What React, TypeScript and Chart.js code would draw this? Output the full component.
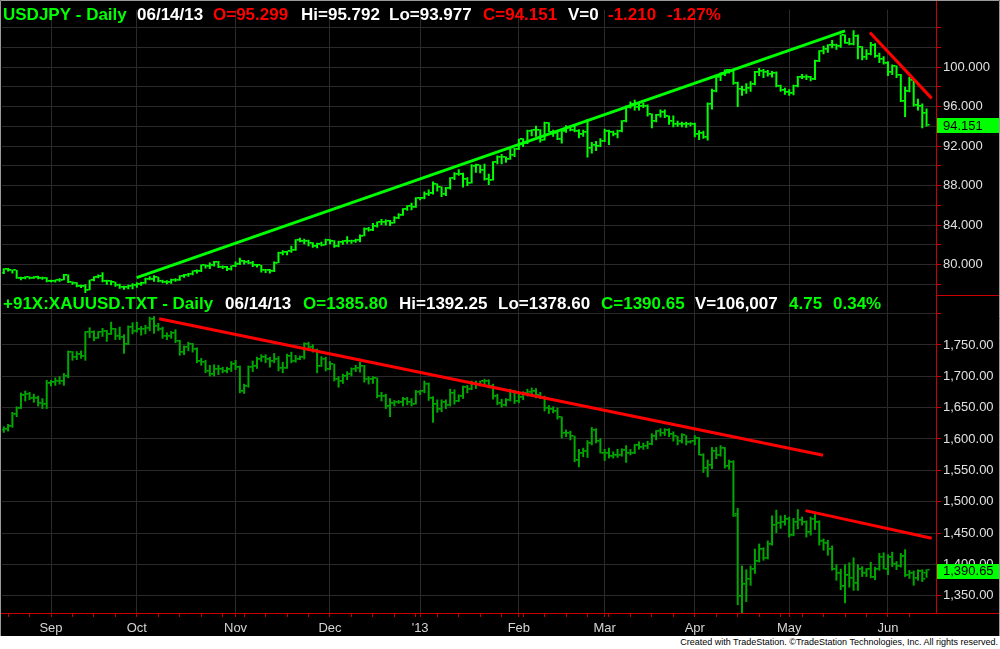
import React, { useEffect, useRef } from 'react';
import { Chart, registerables } from 'chart.js';

Chart.register(...registerables);

// ---------- time axis ----------
const monthLabels = ['Sep', 'Oct', 'Nov', 'Dec', "'13", 'Feb', 'Mar', 'Apr', 'May', 'Jun'];
const monthStartIdx = [11, 31, 54, 76, 97, 120, 140, 161, 183, 206];
const firstMondayIdx = 1;
const barsPerWeek = 5;
const barCount = 216;

// ---------- USDJPY daily OHLC ----------
const jpyOpen = [
  79.12, 79.55, 79.42, 79.40, 78.62, 78.60, 78.70, 78.65, 78.75, 78.62,
  78.65, 78.35, 78.30, 78.40, 78.45, 78.95, 78.20, 78.15, 77.80, 77.78,
  77.45, 78.38, 78.75, 78.80, 78.35, 78.30, 78.20, 77.90, 77.70, 77.70,
  77.80, 77.95, 78.05, 78.12, 78.55, 78.50, 78.70, 78.30, 78.25, 78.20,
  78.40, 78.45, 78.80, 78.90, 79.05, 79.30, 79.30, 79.95, 79.80, 79.95,
  80.25, 79.70, 79.75, 79.50, 79.80, 80.05, 80.40, 80.25, 80.20, 79.95,
  79.90, 79.45, 79.40, 79.35, 80.20, 81.15, 81.30, 81.35, 81.50, 82.50,
  82.40, 82.40, 82.15, 81.90, 82.05, 82.00, 82.50, 82.40, 81.85, 82.30,
  82.40, 82.35, 82.40, 82.45, 82.90, 83.60, 83.50, 83.90, 84.30, 84.35,
  84.40, 84.20, 84.70, 85.05, 85.60, 85.90, 85.85, 86.70, 86.75, 87.15,
  87.25, 88.15, 87.85, 87.10, 87.75, 88.80, 89.20, 89.20, 88.70, 88.30,
  90.00, 90.05, 89.60, 88.70, 88.60, 90.35, 90.90, 90.85, 90.70, 91.10,
  91.70, 92.70, 92.30, 93.55, 93.60, 93.60, 92.65, 94.35, 93.45, 93.35,
  92.70, 93.50, 93.90, 93.60, 93.50, 93.20, 93.40, 91.85, 92.15, 92.00,
  92.55, 93.55, 93.40, 93.20, 93.50, 94.55, 95.95, 96.25, 95.95, 96.10,
  96.10, 95.20, 94.50, 95.10, 95.40, 95.05, 94.50, 94.20, 94.25, 94.20,
  94.20, 94.25, 93.20, 93.35, 92.90, 96.30, 97.60, 98.95, 99.40, 99.70,
  99.60, 98.40, 97.75, 97.70, 97.90, 98.30, 99.50, 99.60, 99.50, 99.30,
  99.40, 98.05, 97.65, 97.45, 97.40, 98.05, 99.00, 99.00, 98.95, 98.80,
  100.60, 101.60, 101.80, 102.20, 102.20, 102.10, 103.20, 102.40, 102.30, 103.15,
  102.00, 101.00, 101.35, 102.25, 101.10, 100.80, 100.45, 99.50, 100.10, 99.20,
  96.60, 97.55, 98.70, 96.20, 96.10, 95.299,
];
const jpyHigh = [
  79.62, 79.65, 79.48, 79.45, 78.75, 78.80, 78.78, 78.82, 78.85, 78.75,
  78.72, 78.45, 78.48, 78.60, 79.05, 79.00, 78.28, 78.20, 77.95, 78.00,
  78.45, 78.80, 78.98, 79.22, 78.45, 78.40, 78.25, 78.05, 77.85, 77.95,
  78.10, 78.20, 78.25, 78.65, 78.80, 78.90, 78.75, 78.45, 78.40, 78.55,
  78.60, 78.90, 79.05, 79.15, 79.40, 79.50, 80.00, 80.00, 80.20, 80.35,
  80.35, 79.90, 79.85, 79.90, 80.30, 80.68, 80.45, 80.45, 80.35, 80.05,
  79.95, 79.55, 79.55, 80.30, 81.30, 81.45, 81.40, 81.90, 82.55, 82.70,
  82.60, 82.50, 82.25, 82.20, 82.30, 82.60, 82.55, 82.45, 82.40, 82.45,
  82.85, 82.50, 82.60, 83.05, 83.75, 83.80, 84.20, 84.35, 84.60, 84.55,
  84.50, 84.90, 85.20, 85.70, 86.00, 86.25, 86.80, 86.85, 87.40, 87.60,
  88.40, 88.20, 87.90, 87.85, 88.85, 89.35, 89.65, 89.30, 88.85, 90.15,
  90.20, 90.10, 90.20, 89.20, 90.45, 91.05, 91.20, 90.95, 91.70, 91.80,
  92.75, 92.80, 93.65, 93.70, 94.05, 93.70, 94.45, 94.40, 93.65, 93.55,
  93.55, 94.10, 94.05, 94.15, 93.70, 93.65, 94.75, 92.40, 92.50, 92.80,
  93.75, 93.65, 93.55, 93.65, 94.60, 96.10, 96.50, 96.70, 96.30, 96.35,
  96.20, 95.30, 95.25, 95.70, 95.70, 95.10, 95.10, 94.55, 94.45, 94.45,
  94.40, 94.35, 93.60, 93.55, 96.40, 97.80, 99.10, 99.45, 99.75, 99.80,
  99.70, 98.50, 98.10, 98.35, 98.55, 99.60, 99.90, 99.80, 99.70, 99.60,
  99.55, 98.20, 97.90, 97.75, 98.20, 99.10, 99.30, 99.25, 99.10, 100.75,
  101.70, 102.15, 102.30, 102.75, 102.35, 103.30, 103.30, 102.95, 103.74, 103.30,
  102.10, 101.80, 102.55, 102.40, 101.45, 101.10, 100.60, 100.25, 100.15, 99.30,
  98.00, 99.00, 98.80, 96.80, 96.30, 95.792,
];
const jpyLow = [
  79.05, 79.28, 79.10, 78.55, 78.40, 78.50, 78.50, 78.55, 78.50, 78.45,
  78.20, 78.20, 78.18, 78.25, 78.40, 78.12, 77.95, 77.70, 77.62, 77.12,
  77.40, 78.30, 78.60, 78.20, 77.95, 77.90, 77.75, 77.55, 77.45, 77.50,
  77.50, 77.65, 77.85, 78.05, 78.40, 78.25, 78.20, 78.10, 78.00, 78.05,
  78.25, 78.35, 78.65, 78.75, 78.90, 79.10, 79.25, 79.60, 79.55, 79.80,
  79.65, 79.55, 79.35, 79.40, 79.75, 79.95, 80.00, 80.05, 79.75, 79.70,
  79.20, 79.15, 79.10, 79.25, 80.15, 80.95, 80.95, 81.20, 81.40, 82.25,
  82.05, 81.85, 81.70, 81.65, 81.85, 81.95, 82.05, 81.70, 81.75, 82.00,
  82.10, 82.10, 82.20, 82.25, 82.85, 83.35, 83.40, 83.75, 84.00, 83.95,
  83.90, 84.15, 84.60, 84.95, 85.45, 85.50, 85.75, 86.50, 86.60, 86.95,
  87.10, 87.40, 86.85, 86.95, 87.60, 88.55, 89.00, 87.80, 87.95, 88.20,
  89.30, 89.25, 88.50, 88.05, 88.50, 90.15, 90.15, 90.30, 90.60, 90.90,
  91.60, 91.90, 92.20, 93.00, 92.95, 92.35, 92.55, 93.40, 92.95, 92.60,
  92.25, 93.35, 93.50, 93.40, 92.80, 92.95, 90.85, 91.25, 91.50, 91.90,
  92.40, 92.10, 93.00, 92.80, 93.40, 94.40, 95.80, 95.60, 95.60, 95.85,
  95.00, 93.80, 94.40, 94.90, 94.85, 94.15, 93.90, 93.95, 93.90, 93.85,
  94.00, 92.90, 92.60, 92.75, 92.55, 95.70, 97.45, 98.60, 99.10, 99.35,
  98.20, 95.95, 97.10, 97.30, 97.50, 98.15, 99.10, 98.90, 99.05, 98.95,
  97.95, 97.50, 97.20, 97.10, 97.15, 97.95, 98.80, 98.70, 98.55, 98.70,
  100.50, 101.30, 101.45, 101.90, 101.75, 101.95, 102.35, 102.20, 102.20, 100.80,
  100.70, 100.75, 101.20, 100.95, 100.40, 100.25, 99.10, 99.20, 98.90, 96.45,
  94.95, 97.45, 96.00, 95.60, 93.80, 93.977,
];
const jpyClose = [
  79.55, 79.42, 79.40, 78.62, 78.60, 78.70, 78.65, 78.75, 78.62, 78.65,
  78.35, 78.30, 78.40, 78.45, 78.95, 78.20, 78.15, 77.80, 77.78, 77.45,
  78.38, 78.75, 78.80, 78.35, 78.30, 78.20, 77.90, 77.70, 77.70, 77.80,
  77.95, 78.05, 78.12, 78.55, 78.50, 78.70, 78.30, 78.25, 78.20, 78.40,
  78.45, 78.80, 78.90, 79.05, 79.30, 79.30, 79.95, 79.80, 79.95, 80.25,
  79.70, 79.75, 79.50, 79.80, 80.05, 80.40, 80.25, 80.20, 79.95, 79.90,
  79.45, 79.40, 79.35, 80.20, 81.15, 81.30, 81.35, 81.50, 82.50, 82.40,
  82.40, 82.15, 81.90, 82.05, 82.00, 82.50, 82.40, 81.85, 82.30, 82.40,
  82.35, 82.40, 82.45, 82.90, 83.60, 83.50, 83.90, 84.30, 84.35, 84.40,
  84.20, 84.70, 85.05, 85.60, 85.90, 85.85, 86.70, 86.75, 87.15, 87.25,
  88.15, 87.85, 87.10, 87.75, 88.80, 89.20, 89.20, 88.70, 88.30, 90.00,
  90.05, 89.60, 88.70, 88.60, 90.35, 90.90, 90.85, 90.70, 91.10, 91.70,
  92.70, 92.30, 93.55, 93.60, 93.60, 92.65, 94.35, 93.45, 93.35, 92.70,
  93.50, 93.90, 93.60, 93.50, 93.20, 93.40, 91.85, 92.15, 92.00, 92.55,
  93.55, 93.40, 93.20, 93.50, 94.55, 95.95, 96.25, 95.95, 96.10, 96.10,
  95.20, 94.50, 95.10, 95.40, 95.05, 94.50, 94.20, 94.25, 94.20, 94.20,
  94.25, 93.20, 93.35, 92.90, 96.30, 97.60, 98.95, 99.40, 99.70, 99.60,
  98.40, 97.75, 97.70, 97.90, 98.30, 99.50, 99.60, 99.50, 99.30, 99.40,
  98.05, 97.65, 97.45, 97.40, 98.05, 99.00, 99.00, 98.95, 98.80, 100.60,
  101.60, 101.80, 102.20, 102.20, 102.10, 103.20, 102.40, 102.30, 103.15, 102.00,
  101.00, 101.35, 102.25, 101.10, 100.80, 100.45, 99.50, 100.10, 99.20, 96.60,
  97.55, 98.70, 96.20, 96.10, 95.30, 94.151,
];

// ---------- Gold (XAUUSD) daily OHLC ----------
const goldOpen = [
  1614, 1616, 1620, 1640, 1650, 1670, 1671, 1665, 1665, 1657,
  1656, 1690, 1691, 1693, 1693, 1700, 1738, 1731, 1735, 1732,
  1770, 1771, 1761, 1770, 1772, 1767, 1775, 1764, 1762, 1752,
  1779, 1773, 1776, 1775, 1777, 1792, 1781, 1775, 1764, 1765,
  1769, 1757, 1738, 1746, 1752, 1744, 1724, 1723, 1708, 1703,
  1712, 1712, 1709, 1712, 1719, 1715, 1676, 1684, 1715, 1716,
  1727, 1731, 1727, 1725, 1728, 1713, 1714, 1733, 1725, 1728,
  1730, 1751, 1747, 1742, 1717, 1727, 1712, 1719, 1696, 1693,
  1701, 1703, 1711, 1713, 1716, 1696, 1696, 1697, 1669, 1669,
  1653, 1657, 1659, 1659, 1663, 1659, 1656, 1675, 1676, 1688,
  1665, 1656, 1648, 1659, 1655, 1674, 1661, 1669, 1683, 1680,
  1688, 1687, 1692, 1692, 1685, 1668, 1657, 1654, 1662, 1677,
  1660, 1667, 1674, 1675, 1677, 1670, 1667, 1650, 1648, 1644,
  1635, 1609, 1610, 1604, 1566, 1578, 1581, 1593, 1615, 1596,
  1578, 1577, 1573, 1575, 1575, 1582, 1577, 1578, 1590, 1588,
  1589, 1592, 1604, 1613, 1610, 1615, 1608, 1604, 1597, 1606,
  1595, 1596, 1602, 1575, 1553, 1559, 1581, 1575, 1585, 1557,
  1563, 1480, 1350, 1369, 1377, 1393, 1405, 1424, 1410, 1432,
  1462, 1466, 1468, 1472, 1447, 1468, 1470, 1468, 1451, 1473,
  1468, 1437, 1434, 1425, 1392, 1386, 1365, 1383, 1378, 1370,
  1392, 1387, 1393, 1380, 1392, 1412, 1393, 1412, 1400, 1398,
  1413, 1383, 1386, 1378, 1390, 1385.80,
];
const goldHigh = [
  1620, 1624, 1643, 1652, 1674, 1677, 1675, 1672, 1669, 1665,
  1694, 1694, 1698, 1700, 1705, 1741, 1740, 1740, 1741, 1772,
  1778, 1773, 1772, 1777, 1774, 1787, 1777, 1779, 1767, 1781,
  1786, 1787, 1780, 1782, 1795, 1796, 1785, 1779, 1770, 1772,
  1775, 1758, 1749, 1755, 1753, 1746, 1729, 1726, 1718, 1719,
  1718, 1715, 1715, 1724, 1726, 1717, 1688, 1717, 1725, 1731,
  1735, 1735, 1731, 1737, 1732, 1723, 1736, 1739, 1734, 1733,
  1754, 1755, 1751, 1744, 1732, 1731, 1724, 1720, 1700, 1704,
  1708, 1714, 1718, 1723, 1718, 1700, 1700, 1698, 1675, 1672,
  1665, 1662, 1662, 1667, 1667, 1665, 1678, 1678, 1693, 1690,
  1668, 1663, 1663, 1663, 1680, 1679, 1671, 1685, 1686, 1693,
  1693, 1693, 1696, 1695, 1688, 1672, 1664, 1665, 1680, 1678,
  1673, 1676, 1680, 1682, 1681, 1675, 1669, 1654, 1652, 1650,
  1636, 1615, 1613, 1605, 1584, 1586, 1598, 1619, 1617, 1601,
  1584, 1586, 1580, 1584, 1585, 1590, 1584, 1592, 1596, 1594,
  1597, 1609, 1614, 1617, 1617, 1617, 1612, 1605, 1609, 1606,
  1598, 1606, 1603, 1577, 1567, 1587, 1587, 1590, 1587, 1567,
  1566, 1490, 1398, 1392, 1398, 1425, 1433, 1427, 1438, 1478,
  1487, 1478, 1479, 1476, 1474, 1488, 1476, 1470, 1476, 1480,
  1470, 1441, 1439, 1430, 1400, 1393, 1400, 1403, 1411, 1400,
  1397, 1394, 1404, 1396, 1418, 1419, 1416, 1420, 1405, 1418,
  1424, 1391, 1390, 1392, 1392, 1392.25,
];
const goldLow = [
  1610, 1612, 1618, 1635, 1648, 1660, 1662, 1658, 1652, 1648,
  1648, 1684, 1685, 1687, 1685, 1697, 1725, 1726, 1728, 1725,
  1761, 1756, 1760, 1763, 1755, 1766, 1758, 1758, 1736, 1750,
  1767, 1770, 1765, 1767, 1772, 1768, 1772, 1760, 1758, 1760,
  1753, 1733, 1734, 1740, 1738, 1721, 1717, 1705, 1700, 1700,
  1702, 1705, 1705, 1707, 1710, 1673, 1672, 1682, 1707, 1712,
  1723, 1721, 1714, 1721, 1708, 1705, 1712, 1721, 1722, 1726,
  1727, 1741, 1738, 1705, 1715, 1708, 1710, 1692, 1682, 1688,
  1694, 1700, 1707, 1706, 1690, 1687, 1688, 1665, 1660, 1648,
  1635, 1652, 1656, 1652, 1654, 1652, 1655, 1670, 1673, 1661,
  1626, 1642, 1643, 1648, 1652, 1655, 1659, 1664, 1673, 1678,
  1680, 1684, 1684, 1681, 1663, 1654, 1650, 1652, 1660, 1656,
  1657, 1662, 1668, 1668, 1665, 1664, 1644, 1640, 1641, 1631,
  1601, 1603, 1598, 1563, 1555, 1571, 1570, 1590, 1593, 1577,
  1565, 1569, 1569, 1570, 1572, 1562, 1574, 1576, 1583, 1583,
  1584, 1590, 1598, 1604, 1605, 1603, 1596, 1590, 1593, 1590,
  1593, 1590, 1574, 1546, 1539, 1552, 1568, 1572, 1553, 1551,
  1476, 1335, 1321, 1340, 1366, 1385, 1403, 1406, 1408, 1430,
  1450, 1457, 1462, 1443, 1445, 1456, 1462, 1443, 1446, 1455,
  1430, 1422, 1414, 1390, 1374, 1359, 1338, 1363, 1358, 1358,
  1380, 1380, 1378, 1375, 1390, 1392, 1383, 1396, 1391, 1395,
  1380, 1377, 1366, 1374, 1372, 1378.60,
];
const goldClose = [
  1616, 1620, 1640, 1650, 1670, 1671, 1665, 1665, 1657, 1656,
  1690, 1691, 1693, 1693, 1700, 1738, 1731, 1735, 1732, 1770,
  1771, 1761, 1770, 1772, 1767, 1775, 1764, 1762, 1752, 1779,
  1773, 1776, 1775, 1777, 1792, 1781, 1775, 1764, 1765, 1769,
  1757, 1738, 1746, 1752, 1744, 1724, 1723, 1708, 1703, 1712,
  1712, 1709, 1712, 1719, 1715, 1676, 1684, 1715, 1716, 1727,
  1731, 1727, 1725, 1728, 1713, 1714, 1733, 1725, 1728, 1730,
  1751, 1747, 1742, 1717, 1727, 1712, 1719, 1696, 1693, 1701,
  1703, 1711, 1713, 1716, 1696, 1696, 1697, 1669, 1669, 1653,
  1657, 1659, 1659, 1663, 1659, 1656, 1675, 1676, 1688, 1665,
  1656, 1648, 1659, 1655, 1674, 1661, 1669, 1683, 1680, 1688,
  1687, 1692, 1692, 1685, 1668, 1657, 1654, 1662, 1677, 1660,
  1667, 1674, 1675, 1677, 1670, 1667, 1650, 1648, 1644, 1635,
  1609, 1610, 1604, 1566, 1578, 1581, 1593, 1615, 1596, 1578,
  1577, 1573, 1575, 1575, 1582, 1577, 1578, 1590, 1588, 1589,
  1592, 1604, 1613, 1610, 1615, 1608, 1604, 1597, 1606, 1595,
  1596, 1602, 1575, 1553, 1559, 1581, 1575, 1585, 1557, 1563,
  1477, 1350, 1369, 1377, 1393, 1405, 1424, 1410, 1432, 1462,
  1466, 1468, 1472, 1447, 1468, 1470, 1468, 1451, 1473, 1468,
  1437, 1434, 1425, 1392, 1386, 1365, 1383, 1378, 1370, 1392,
  1387, 1393, 1380, 1392, 1412, 1393, 1412, 1400, 1398, 1413,
  1383, 1386, 1378, 1390, 1376, 1390.65,
];

// ---------- trend lines (bar index, price) ----------
const jpyUpTrendX = [30.96, 196.0];
const jpyUpTrendY = [78.67, 103.67];
const jpyDownTrendX = [201.8, 216.2];
const jpyDownTrendY = [103.5, 96.83];
const goldTrend1X = [36.2, 190.9];
const goldTrend1Y = [1791.7, 1573.9];
const goldTrend2X = [186.8, 216.2];
const goldTrend2Y = [1485.7, 1441.6];

// ---------- price axes ----------
const jpyTicks = [78, 80, 82, 84, 86, 88, 90, 92, 94, 96, 98, 100, 102, 104];
const jpyLabeled = [80, 84, 88, 92, 96, 100];
const goldTicks = [1350, 1400, 1450, 1500, 1550, 1600, 1650, 1700, 1750, 1800];
const goldLabeled = [1350, 1400, 1450, 1500, 1550, 1600, 1650, 1700, 1750];

// ---------- header texts ----------
const jpyHeaderText = ['USDJPY - Daily', '06/14/13', 'O=95.299', 'Hi=95.792', 'Lo=93.977', 'C=94.151', 'V=0', '-1.210', '-1.27%'];
const jpyHeaderKind = ['g', 'w', 'r', 'w', 'w', 'r', 'w', 'r', 'r'];
const goldHeaderText = ['+91X:XAUUSD.TXT - Daily', '06/14/13', 'O=1385.80', 'Hi=1392.25', 'Lo=1378.60', 'C=1390.65', 'V=106,007', '4.75', '0.34%'];
const goldHeaderKind = ['g', 'w', 'g', 'w', 'w', 'g', 'w', 'g', 'g'];
const footnote = 'Created with TradeStation. \u00A9TradeStation Technologies, Inc. All rights reserved.';

// ---------- style ----------
const FONT = '"Liberation Sans", Arial, Helvetica, sans-serif';
const RED_AXIS = '#c80000';
const GRID = '#2a2a2a';
const JPY_GREEN = '#00ff00';
const GOLD_GREEN = '#00a800';
const TEXT_COLORS: Record<string, string> = { g: '#00ff00', w: '#ffffff', r: '#ff0000' };
const jpyHeaderX = [3, 137, 213, 301, 389, 483, 568, 608, 667];
const goldHeaderX = [3, 225, 303, 399, 498, 601, 695, 789, 833];

const xTickIdx: number[] = (() => {
  const s = new Set<number>(monthStartIdx);
  for (let i = firstMondayIdx; i < barCount; i += barsPerWeek) s.add(i);
  return Array.from(s).sort((a, b) => a - b);
})();

const fmtGold = (v: number) =>
  v.toLocaleString('en-US', { minimumFractionDigits: 2, maximumFractionDigits: 2 });

const ohlcTickPlugin = {
  id: 'ohlcTicks',
  afterDatasetDraw(chart: any, args: any) {
    const ds: any = chart.data.datasets[args.index];
    if (!ds.ohlc) return;
    const { open, close, color } = ds.ohlc;
    const xs = chart.scales.x;
    const ys = chart.scales[ds.yAxisID];
    const a = chart.chartArea;
    const ctx = chart.ctx;
    ctx.save();
    ctx.beginPath();
    ctx.rect(a.left, a.top, a.right - a.left, a.bottom - a.top);
    ctx.clip();
    ctx.fillStyle = color;
    for (let k = 0; k < open.length; k++) {
      const px = xs.getPixelForValue(k);
      const yo = Math.round(ys.getPixelForValue(open[k]));
      const yc = Math.round(ys.getPixelForValue(close[k]));
      ctx.fillRect(px - 3, yo - 1, 2, 1.5);
      ctx.fillRect(px + 1, yc - 1, 2, 1.5);
    }
    ctx.restore();
  },
};

const decorPlugin = {
  id: 'decor',
  afterDraw(chart: any) {
    const ctx = chart.ctx;
    const W = chart.width;
    const H = chart.height;
    const xAxis = chart.scales.x;
    const yJ = chart.scales.yJpy;
    const yG = chart.scales.yGold;
    const axisX = chart.chartArea.right;
    ctx.save();

    // red frame lines
    ctx.strokeStyle = RED_AXIS;
    ctx.lineWidth = 1;
    ctx.beginPath();
    ctx.moveTo(Math.round(axisX) + 0.5, 0);
    ctx.lineTo(Math.round(axisX) + 0.5, Math.round(xAxis.top) + 1);
    ctx.moveTo(0, Math.round(xAxis.top) + 0.5);
    ctx.lineTo(W, Math.round(xAxis.top) + 0.5);
    ctx.moveTo(axisX, Math.round(yJ.bottom) + 0.5);
    ctx.lineTo(W, Math.round(yJ.bottom) + 0.5);
    ctx.stroke();

    // price tags
    const tags = [
      { scale: yJ, value: jpyClose[jpyClose.length - 1], text: jpyClose[jpyClose.length - 1].toFixed(3) },
      { scale: yG, value: goldClose[goldClose.length - 1], text: fmtGold(goldClose[goldClose.length - 1]) },
    ];
    ctx.font = `13px ${FONT}`;
    ctx.textBaseline = 'middle';
    ctx.textAlign = 'left';
    tags.forEach((t) => {
      const y = t.scale.getPixelForValue(t.value) + 1;
      ctx.fillStyle = '#00ff00';
      ctx.fillRect(axisX + 1, Math.round(y - 7.5), W - axisX - 1, 15);
      ctx.fillStyle = '#000000';
      ctx.fillText(t.text, axisX + 7, y + 0.5);
    });

    // headers
    ctx.font = `bold 17px ${FONT}`;
    ctx.textBaseline = 'alphabetic';
    jpyHeaderText.forEach((t, k) => {
      ctx.fillStyle = TEXT_COLORS[jpyHeaderKind[k]];
      ctx.fillText(t, jpyHeaderX[k], 20);
    });
    goldHeaderText.forEach((t, k) => {
      ctx.fillStyle = TEXT_COLORS[goldHeaderKind[k]];
      ctx.fillText(t, goldHeaderX[k], 308.5);
    });

    // outer gray border
    ctx.strokeStyle = '#9a9a9a';
    ctx.beginPath();
    ctx.moveTo(0.5, H);
    ctx.lineTo(0.5, 0.5);
    ctx.lineTo(W - 0.5, 0.5);
    ctx.lineTo(W - 0.5, H);
    ctx.stroke();
    ctx.restore();
  },
};

export default function App() {
  const canvasRef = useRef<HTMLCanvasElement | null>(null);

  useEffect(() => {
    const canvas = canvasRef.current;
    if (!canvas) return;

    const jpyBars = jpyLow.map((lo, k) => ({ x: k, y: [lo, jpyHigh[k]] }));
    const goldBars = goldLow.map((lo, k) => ({ x: k, y: [lo, goldHigh[k]] }));
    const line = (xs: number[], ys: number[]) => xs.map((x, k) => ({ x, y: ys[k] }));
    const trend = (label: string, data: any[], yAxisID: string, color: string) => ({
      type: 'line',
      label,
      data,
      yAxisID,
      borderColor: color,
      borderWidth: 3,
      pointRadius: 0,
      order: 0,
    });

    const chart = new Chart(canvas, {
      type: 'bar',
      data: {
        datasets: [
          trend('USDJPY up trend', line(jpyUpTrendX, jpyUpTrendY), 'yJpy', '#00ff00'),
          trend('USDJPY down trend', line(jpyDownTrendX, jpyDownTrendY), 'yJpy', '#ff0000'),
          trend('Gold trend 1', line(goldTrend1X, goldTrend1Y), 'yGold', '#ff0000'),
          trend('Gold trend 2', line(goldTrend2X, goldTrend2Y), 'yGold', '#ff0000'),
          {
            type: 'bar',
            label: 'USDJPY',
            data: jpyBars,
            yAxisID: 'yJpy',
            backgroundColor: JPY_GREEN,
            borderWidth: 0,
            inflateAmount: 0,
            barThickness: 2,
            grouped: false,
            order: 5,
            ohlc: { open: jpyOpen, close: jpyClose, color: JPY_GREEN },
          },
          {
            type: 'bar',
            label: 'XAUUSD',
            data: goldBars,
            yAxisID: 'yGold',
            backgroundColor: GOLD_GREEN,
            borderWidth: 0,
            inflateAmount: 0,
            barThickness: 2,
            grouped: false,
            order: 5,
            ohlc: { open: goldOpen, close: goldClose, color: GOLD_GREEN },
          },
        ] as any,
      },
      options: {
        responsive: false,
        animation: false,
        devicePixelRatio: 1,
        events: [],
        layout: { padding: { left: 2, top: 2, right: 0, bottom: 0 } },
        plugins: { legend: { display: false }, tooltip: { enabled: false }, title: { display: false } },
        scales: {
          x: {
            type: 'linear',
            position: 'bottom',
            min: -0.42,
            max: 217.2,
            offset: false,
            afterBuildTicks: (s: any) => {
              s.ticks = xTickIdx.map((v) => ({ value: v }));
            },
            afterFit: (s: any) => {
              s.height = 23;
            },
            ticks: {
              autoSkip: false,
              maxRotation: 0,
              minRotation: 0,
              padding: 4,
              color: '#d4d4d4',
              font: { family: FONT, size: 13 },
              callback: (v: any) => {
                const k = monthStartIdx.indexOf(Number(v));
                return k >= 0 ? monthLabels[k] : '';
              },
            },
            grid: {
              offset: false,
              drawOnChartArea: true,
              color: (c: any) => (c.tick && monthStartIdx.includes(c.tick.value) ? GRID : 'rgba(0,0,0,0)'),
              tickColor: RED_AXIS,
              tickLength: 4,
            },
            border: { color: RED_AXIS, width: 1 },
          },
          yJpy: {
            type: 'linear',
            position: 'right',
            stack: 'panels',
            stackWeight: 289,
            min: 76.9,
            max: 105.8,
            afterBuildTicks: (s: any) => {
              s.ticks = jpyTicks.map((v) => ({ value: v }));
            },
            afterFit: (s: any) => {
              s.width = 64;
            },
            ticks: {
              autoSkip: false,
              padding: 2,
              color: '#e0e0e0',
              font: { family: FONT, size: 13 },
              callback: (v: any) => (jpyLabeled.includes(Number(v)) ? Number(v).toFixed(3) : ''),
            },
            grid: { color: GRID, tickColor: RED_AXIS, tickLength: 5 },
            border: { color: RED_AXIS, width: 1 },
          },
          yGold: {
            type: 'linear',
            position: 'right',
            stack: 'panels',
            stackWeight: 322,
            min: 1322.4,
            max: 1829.5,
            afterBuildTicks: (s: any) => {
              s.ticks = goldTicks.map((v) => ({ value: v }));
            },
            afterFit: (s: any) => {
              s.width = 64;
            },
            ticks: {
              autoSkip: false,
              padding: 2,
              color: '#e0e0e0',
              font: { family: FONT, size: 13 },
              callback: (v: any) => (goldLabeled.includes(Number(v)) ? fmtGold(Number(v)) : ''),
            },
            grid: { color: GRID, tickColor: RED_AXIS, tickLength: 5 },
            border: { color: RED_AXIS, width: 1 },
          },
        },
      } as any,
      plugins: [ohlcTickPlugin, decorPlugin],
    });

    return () => chart.destroy();
  }, []);

  return (
    <div style={{ position: 'fixed', left: 0, top: 0, width: 1000, height: 649, background: '#ffffff' }}>
      <div style={{ position: 'absolute', left: 0, top: 0, width: 1000, height: 636, background: '#000000' }}>
        <canvas ref={canvasRef} width={1000} height={636} style={{ display: 'block', width: 1000, height: 636 }} />
      </div>
      <div
        style={{
          position: 'absolute',
          left: 0,
          top: 636,
          width: 998,
          height: 13,
          textAlign: 'right',
          fontFamily: FONT,
          fontSize: 9,
          lineHeight: '13px',
          color: '#000000',
          whiteSpace: 'nowrap',
        }}
      >
        {footnote}
      </div>
    </div>
  );
}
